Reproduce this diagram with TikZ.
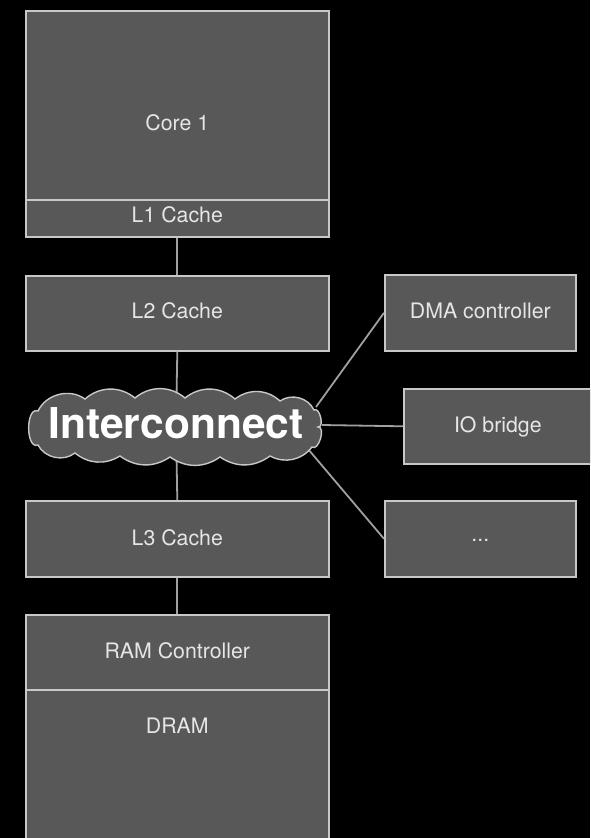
\documentclass[tikz,border=0pt]{standalone}
\usepackage{fontspec}
\setmainfont{TeX Gyre Heros}
\definecolor{boxfill}{HTML}{585858}
\definecolor{boxline}{HTML}{C8C8C8}
\definecolor{wire}{HTML}{A0A0A0}
\definecolor{txt}{HTML}{E6E6E6}
\begin{document}
\begin{tikzpicture}[x=1pt,y=-1pt,
  box/.style={draw=boxline, line width=1.6pt, fill=boxfill, text=txt,
    font=\fontsize{21.3}{24}\selectfont, inner sep=0pt},
  wireline/.style={draw=wire, line width=1.8pt},
  cloudline/.style={draw=boxline, line width=1.4pt, fill=boxfill}]
\fill[black] (0,0) rectangle (590,838);
\useasboundingbox (0,0) rectangle (590,838);
\clip (0,0) rectangle (590,838);
% left column
\node[box, anchor=north west, minimum width=303pt, minimum height=189pt,
  text height=119.5pt, text depth=69.5pt] (core) at (25,10) {Core 1};
\node[box, anchor=north west, minimum width=303pt, minimum height=37pt,
  text height=23pt, text depth=14pt] (l1) at (25,199) {L1 Cache};
\node[box, anchor=north west, minimum width=303pt, minimum height=75pt,
  text height=42.5pt, text depth=32.5pt] (l2) at (25,275) {L2 Cache};
\node[box, anchor=north west, minimum width=303pt, minimum height=76pt,
  text height=44.5pt, text depth=31.5pt] (l3) at (25,500) {L3 Cache};
\node[box, anchor=north west, minimum width=303pt, minimum height=75pt,
  text height=43.5pt, text depth=31.5pt] (ramc) at (25,614) {RAM Controller};
\node[box, anchor=north west, minimum width=303pt, minimum height=170pt,
  text height=44pt, text depth=126pt] (dram) at (25,689) {DRAM};
% right column
\node[box, anchor=north west, minimum width=191pt, minimum height=76pt,
  text height=43.5pt, text depth=32.5pt] (dma) at (384,274) {DMA controller};
\node[box, anchor=north west, minimum width=188pt, minimum height=75pt,
  text height=43.5pt, text depth=31.5pt] (io) at (403,388) {IO bridge};
\node[box, anchor=north west, minimum width=191pt, minimum height=76pt,
  text height=41pt, text depth=35pt] (dots) at (384,500) {...};
% interconnect
\coordinate (cc) at (176,426);
\coordinate (c1) at (316,407);
\coordinate (c2) at (322,425);
\coordinate (c3) at (308,449);
% connectors (behind the cloud)
\draw[wireline] (l1.south) -- (l2.north);
\draw[wireline] (l2.south) -- (cc);
\draw[wireline] (cc) -- (l3.north);
\draw[wireline] (l3.south) -- (ramc.north);
\draw[wireline] (c1) -- (dma.west);
\draw[wireline] (c2) -- (io.west);
\draw[wireline] (c3) -- (dots.west);
% cloud outline
\path[cloudline] (38,411) to[bend left=50] (85,399) to[bend left=40] (135,398)
  to[bend left=40] (185,398) to[bend left=40] (235,399) to[bend left=40] (280,401)
  to[bend left=50] (314,410) to[bend left=110] (318,427) to[bend left=110] (312,447)
  to[bend left=40] (270,456) to[bend left=35] (220,457) to[bend left=35] (170,457)
  to[bend left=35] (120,456) to[bend left=35] (75,453) to[bend left=50] (38,445)
  to[bend left=110] cycle;
\node[text=white, font=\bfseries\fontsize{42.5}{44}\selectfont, inner sep=0pt,
  anchor=base] (ic) at (176,438) {Interconnect};
\end{tikzpicture}
\end{document}
